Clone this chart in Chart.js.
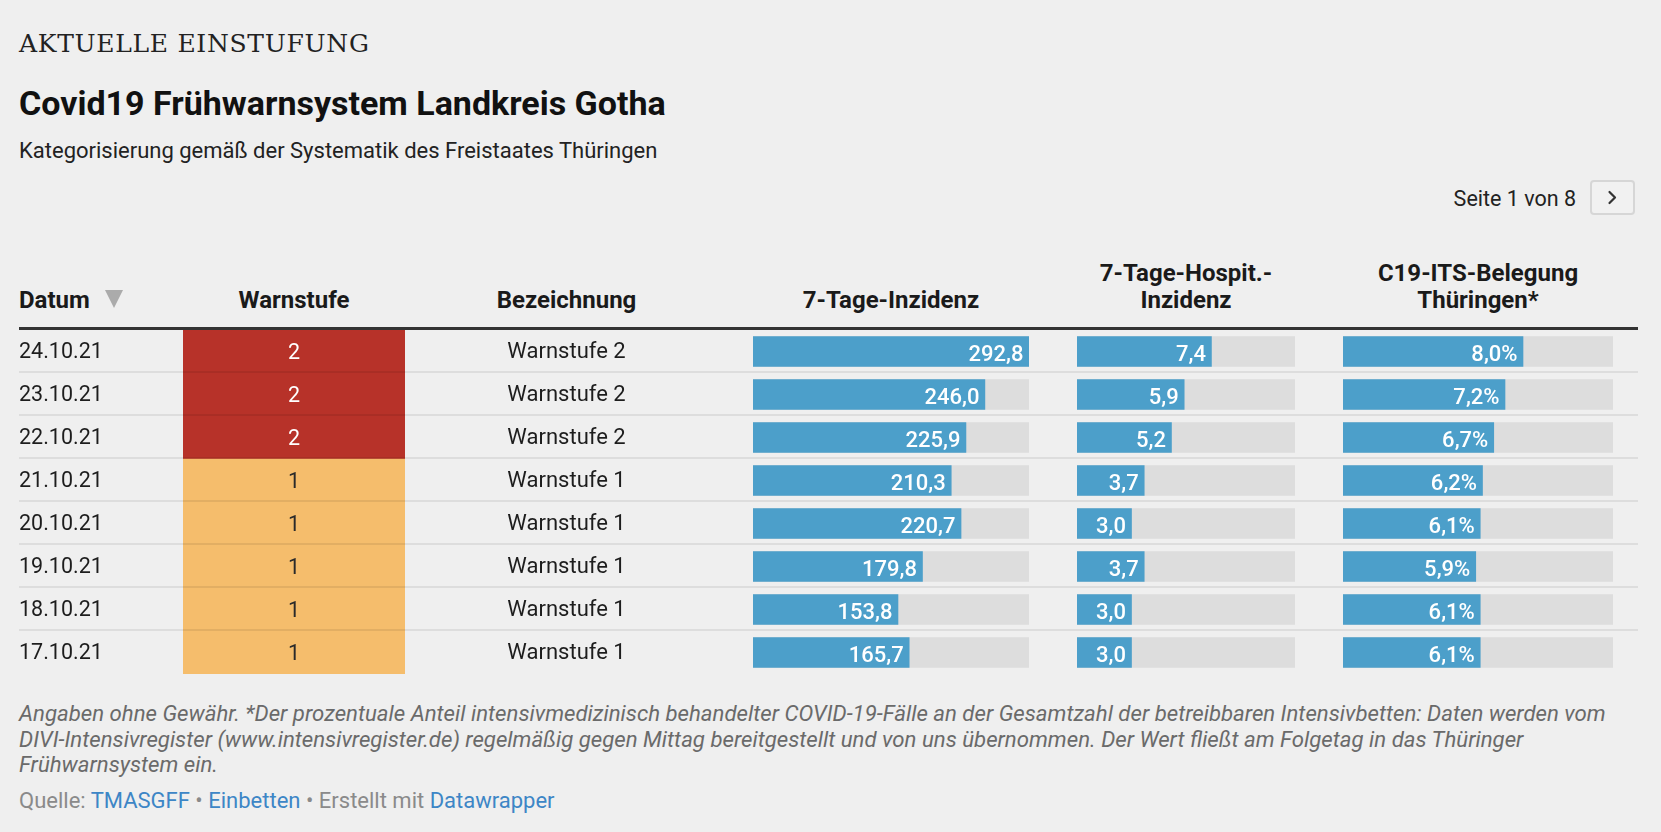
<!DOCTYPE html>
<html lang="de">
<head>
<meta charset="utf-8">
<title>Covid19 Frühwarnsystem Landkreis Gotha</title>
<script src="https://cdn.jsdelivr.net/npm/chart.js@4.4.1/dist/chart.umd.min.js"></script>
<style>
  html, body { margin: 0; padding: 0; }
  body { width: 1661px; height: 832px; background: #efefef; font-family: Roboto, "Noto Sans", sans-serif; color: #1d1d1d; position: relative; overflow: hidden; }
  .abs { position: absolute; white-space: nowrap; }
  #kicker { left: 19px; top: 31px; font-family: "DejaVu Serif", serif; font-size: 25px; line-height: 25px; letter-spacing: 0.7px; color: #222; }
  #title { left: 19px; top: 86.4px; font-size: 34px; line-height: 34px; font-weight: 700; color: #111; }
  #subtitle { left: 19px; top: 139.5px; font-size: 22px; line-height: 22px; color: #222; }
  #pager { right: 85px; top: 188px; font-size: 21.5px; line-height: 21.5px; color: #222; }
  #pbtn { left: 1590px; top: 180px; width: 41px; height: 31px; border: 2px solid #d6d6d6; border-radius: 4px; background: #f1f1f1; }
  .hd { position: absolute; top: 200px; height: 114.8px; display: flex; flex-direction: column; justify-content: flex-end; font-weight: 700; font-size: 24px; line-height: 27.5px; color: #1a1a1a; text-align: center; white-space: nowrap; }
  #sorttri { position: absolute; left: 105px; top: 290px; width: 0; height: 0; border-left: 9px solid transparent; border-right: 9px solid transparent; border-top: 18px solid #ababab; }
  #hline { position: absolute; left: 19px; top: 327px; width: 1619px; height: 3px; background: #333; }
  #rows { position: absolute; left: 19px; top: 330px; width: 1619px; z-index: 3; pointer-events: none; }
  .row { position: relative; height: 43px; box-sizing: border-box; border-bottom: 2px solid rgba(0,0,0,0.075); font-size: 21.5px; line-height: 41px; }
  .row:last-child { border-bottom: none; }
  .row .d { position: absolute; left: 0; }
  .row .b { position: absolute; left: 447px; width: 201px; text-align: center; font-size: 22px; }
  canvas.c { position: absolute; top: 330px; z-index: 1; }
  #foot { left: 19px; top: 701.3px; font-size: 22.2px; line-height: 25.5px; font-style: italic; color: #6a6a6a; }
  #source { left: 19px; top: 790px; font-size: 22px; line-height: 22px; color: #8a8a8a; }
  #source a { color: #3d86c6; text-decoration: none; }
</style>
</head>
<body>
<div id="kicker" class="abs">AKTUELLE EINSTUFUNG</div>
<div id="title" class="abs">Covid19 Frühwarnsystem Landkreis Gotha</div>
<div id="subtitle" class="abs">Kategorisierung gemäß der Systematik des Freistaates Thüringen</div>
<div id="pager" class="abs">Seite 1 von 8</div>
<div id="pbtn" class="abs"><svg width="41" height="31" viewBox="0 0 41 31"><polyline points="17.5,10 23,15.5 17.5,21" fill="none" stroke="#333" stroke-width="2.2" stroke-linecap="round" stroke-linejoin="round"/></svg></div>

<div id="headers"></div>
<div id="sorttri"></div>
<div id="hline"></div>
<div id="rows"></div>

<canvas id="cWarn" class="c" width="222" height="344" style="left:183px;width:222px;height:344px"></canvas>
<canvas id="cInz" class="c" width="276" height="344" style="left:753px;width:276px;height:344px"></canvas>
<canvas id="cHosp" class="c" width="218" height="344" style="left:1077px;width:218px;height:344px"></canvas>
<canvas id="cIts" class="c" width="270" height="344" style="left:1343px;width:270px;height:344px"></canvas>

<div id="foot" class="abs">Angaben ohne Gewähr. *Der prozentuale Anteil intensivmedizinisch behandelter COVID-19-Fälle an der Gesamtzahl der betreibbaren Intensivbetten: Daten werden vom<br>DIVI-Intensivregister (www.intensivregister.de) regelmäßig gegen Mittag bereitgestellt und von uns übernommen. Der Wert fließt am Folgetag in das Thüringer<br>Frühwarnsystem ein.</div>
<div id="source" class="abs">Quelle: <a>TMASGFF</a> • <a>Einbetten</a> • Erstellt mit <a>Datawrapper</a></div>

<script>
// ---- data ----
const dates = ["24.10.21", "23.10.21", "22.10.21", "21.10.21", "20.10.21", "19.10.21", "18.10.21", "17.10.21"];
const warnstufe = [2, 2, 2, 1, 1, 1, 1, 1];
const bezeichnung = ["Warnstufe 2", "Warnstufe 2", "Warnstufe 2", "Warnstufe 1", "Warnstufe 1", "Warnstufe 1", "Warnstufe 1", "Warnstufe 1"];
const inzidenz = [292.8, 246.0, 225.9, 210.3, 220.7, 179.8, 153.8, 165.7];
const hospInzidenz = [7.4, 5.9, 5.2, 3.7, 3.0, 3.7, 3.0, 3.0];
const itsBelegung = [8.0, 7.2, 6.7, 6.2, 6.1, 5.9, 6.1, 6.1];
const columnMax = { inz: 292.8, hosp: 12, its: 12 };
const headerLabels = ["Datum", "Warnstufe", "Bezeichnung", "7-Tage-Inzidenz", "7-Tage-Hospit.-\nInzidenz", "C19-ITS-Belegung\nThüringen*"];

// ---- header + text rows ----
const headerBoxes = [
  { left: 19, width: 80, align: "left" },
  { left: 183, width: 222 },
  { left: 466, width: 201 },
  { left: 753, width: 276 },
  { left: 1077, width: 218 },
  { left: 1343, width: 270 }
];
const hdWrap = document.getElementById("headers");
headerLabels.forEach((t, i) => {
  const d = document.createElement("div");
  d.className = "hd";
  d.style.left = headerBoxes[i].left + "px";
  d.style.width = headerBoxes[i].width + "px";
  if (headerBoxes[i].align) d.style.textAlign = headerBoxes[i].align;
  t.split("\n").forEach(line => { const s = document.createElement("div"); s.textContent = line; d.appendChild(s); });
  hdWrap.appendChild(d);
});
const rowsWrap = document.getElementById("rows");
dates.forEach((dt, i) => {
  const r = document.createElement("div");
  r.className = "row";
  const a = document.createElement("span"); a.className = "d"; a.textContent = dt;
  const b = document.createElement("span"); b.className = "b"; b.textContent = bezeichnung[i];
  r.appendChild(a); r.appendChild(b);
  rowsWrap.appendChild(r);
});

// ---- charts ----
const BLUE = "#4c9fca", TRACK = "#dddddd";
const levelColor = { 1: "#f5bd6c", 2: "#b73229" };
const levelText = { 1: "#2a2a2a", 2: "#ffffff" };
const fmt = (v, suffix) => v.toFixed(1).replace(".", ",") + (suffix || "");

const baseOpts = (max) => ({
  indexAxis: "y",
  responsive: false,
  maintainAspectRatio: false,
  animation: false,
  events: [],
  layout: { padding: 0 },
  scales: {
    x: { display: false, min: 0, max: max },
    y: { display: false }
  },
  plugins: { legend: { display: false }, tooltip: { enabled: false } }
});

function barLabelPlugin(values, suffix) {
  return {
    id: "barLabels",
    afterDatasetsDraw(chart) {
      const ctx = chart.ctx;
      const meta = chart.getDatasetMeta(0);
      ctx.save();
      ctx.font = "500 22px Roboto";
      ctx.fillStyle = "#ffffff";
      ctx.textAlign = "right";
      ctx.textBaseline = "alphabetic";
      meta.data.forEach((bar, i) => {
        ctx.fillText(fmt(values[i], suffix), bar.x - 5.5, bar.y + 9.5);
      });
      ctx.restore();
    }
  };
}

function makeBarChart(id, values, max, suffix) {
  new Chart(document.getElementById(id), {
    type: "bar",
    data: {
      labels: dates,
      datasets: [
        { data: values, backgroundColor: BLUE, barThickness: 30, grouped: false, order: 0 },
        { data: dates.map(() => max), backgroundColor: TRACK, barThickness: 30, grouped: false, order: 1 }
      ]
    },
    options: baseOpts(max),
    plugins: [barLabelPlugin(values, suffix)]
  });
}

// Warnstufe cells: full-band floating bars coloured by level
new Chart(document.getElementById("cWarn"), {
  type: "bar",
  data: {
    labels: dates,
    datasets: [{
      data: warnstufe.map(() => [0, 1]),
      backgroundColor: warnstufe.map(l => levelColor[l]),
      barPercentage: 1,
      categoryPercentage: 1,
      borderWidth: 0
    }]
  },
  options: baseOpts(1),
  plugins: [{
    id: "levelLabels",
    afterDatasetsDraw(chart) {
      const ctx = chart.ctx;
      const meta = chart.getDatasetMeta(0);
      ctx.save();
      ctx.font = "21.5px Roboto";
      ctx.textAlign = "center";
      ctx.textBaseline = "alphabetic";
      meta.data.forEach((bar, i) => {
        ctx.fillStyle = levelText[warnstufe[i]];
        ctx.fillText(String(warnstufe[i]), (bar.base + bar.x) / 2, bar.y + 7);
      });
      ctx.restore();
    }
  }]
});

makeBarChart("cInz", inzidenz, columnMax.inz, "");
makeBarChart("cHosp", hospInzidenz, columnMax.hosp, "");
makeBarChart("cIts", itsBelegung, columnMax.its, "%");
</script>
</body>
</html>
